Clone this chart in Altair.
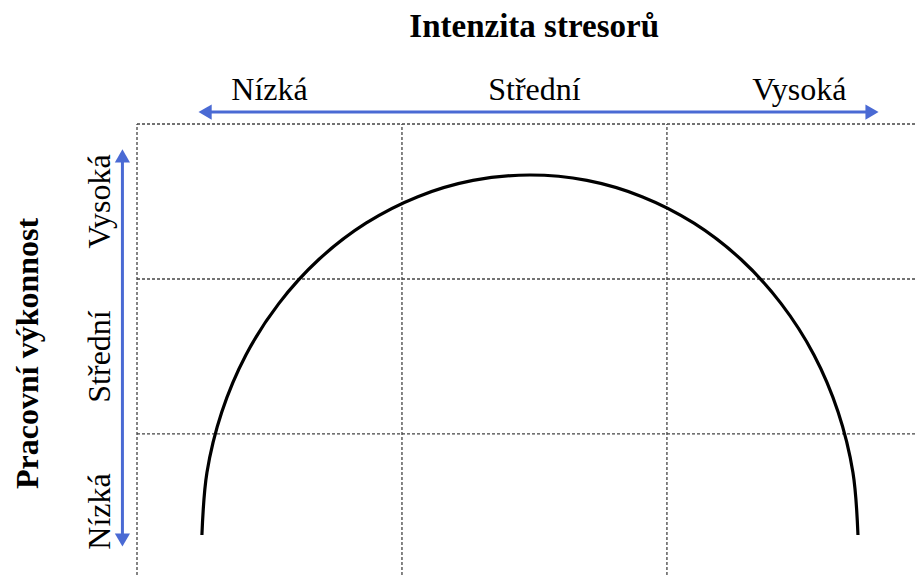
import altair as alt
import pandas as pd

# ---- data (diagram units: one grid cell = 1) ----
levels = ["Nízká", "Střední", "Vysoká"]
level_pos = [0.5, 1.5, 2.5]
grid_pos = [0, 1, 2, 3]

# inverted-U curve
curve_x = [0.245, 0.264, 0.320, 0.411, 0.535, 0.687, 0.864, 1.060, 1.268, 1.483,
           1.698, 1.906, 2.102, 2.279, 2.431, 2.555, 2.646, 2.702, 2.721]
curve_y = [0.348, 0.751, 1.142, 1.510, 1.841, 2.127, 2.360, 2.531, 2.636, 2.671,
           2.636, 2.531, 2.360, 2.127, 1.841, 1.510, 1.142, 0.751, 0.348]

x_title = "Intenzita stresorů"
y_title = "Pracovní výkonnost"

XMAX = 2.94
YMIN = 0.09
FONT = "Liberation Serif"
BLUE = "#4a6ad4"
GRID = "#444444"

xs = alt.Scale(domain=[0, XMAX], nice=False, zero=False)
ys = alt.Scale(domain=[YMIN, 3], nice=False, zero=False)

# grid
vgrid = pd.DataFrame({"x": grid_pos[:3], "y": [YMIN] * 3, "y2": [3] * 3})
hgrid = pd.DataFrame({"y": grid_pos[1:], "x": [0] * 3, "x2": [XMAX] * 3})

vg = alt.Chart(vgrid).mark_rule(color=GRID, strokeDash=[3, 2], strokeWidth=1.3).encode(
    x=alt.X("x:Q", scale=xs, axis=None), y=alt.Y("y:Q", scale=ys, axis=None), y2="y2:Q")
hg = alt.Chart(hgrid).mark_rule(color=GRID, strokeDash=[3, 2], strokeWidth=1.3).encode(
    y=alt.Y("y:Q", scale=ys, axis=None), x=alt.X("x:Q", scale=xs, axis=None), x2="x2:Q")

curve = alt.Chart(pd.DataFrame({"x": curve_x, "y": curve_y, "o": range(len(curve_x))})).mark_line(
    color="black", strokeWidth=3.2, interpolate="catmull-rom").encode(
    x=alt.X("x:Q", scale=xs, axis=None), y=alt.Y("y:Q", scale=ys, axis=None), order="o:Q")

# arrows
harrow = alt.Chart(pd.DataFrame({"x": [0.257], "x2": [2.774], "y": [3.077]})).mark_rule(
    color=BLUE, strokeWidth=3).encode(
    x=alt.X("x:Q", scale=xs, axis=None), x2="x2:Q", y=alt.Y("y:Q", scale=ys, axis=None))
varrow = alt.Chart(pd.DataFrame({"x": [-0.055], "y": [0.316], "y2": [2.794]})).mark_rule(
    color=BLUE, strokeWidth=3).encode(
    x=alt.X("x:Q", scale=xs, axis=None), y=alt.Y("y:Q", scale=ys, axis=None), y2="y2:Q")

heads = pd.DataFrame({
    "x": [0.257, 2.774, -0.055, -0.055],
    "y": [3.077, 3.077, 2.794, 0.316],
    "shape": ["triangle-left", "triangle-right", "triangle-up", "triangle-down"],
})
arrowheads = alt.Chart(heads).mark_point(filled=True, size=230, color=BLUE, opacity=1).encode(
    x=alt.X("x:Q", scale=xs, axis=None), y=alt.Y("y:Q", scale=ys, axis=None),
    shape=alt.Shape("shape:N", scale=None))

# labels
top_lab = alt.Chart(pd.DataFrame({"t": levels, "x": level_pos, "y": [3.155] * 3})).mark_text(
    font=FONT, fontSize=32, color="black", align="center", baseline="alphabetic").encode(
    x=alt.X("x:Q", scale=xs, axis=None), y=alt.Y("y:Q", scale=ys, axis=None), text="t:N")
left_lab = alt.Chart(pd.DataFrame({"t": levels, "y": level_pos, "x": [-0.102] * 3})).mark_text(
    font=FONT, fontSize=32, color="black", align="center", baseline="alphabetic", angle=270).encode(
    x=alt.X("x:Q", scale=xs, axis=None), y=alt.Y("y:Q", scale=ys, axis=None), text="t:N")

title_t = alt.Chart(pd.DataFrame({"t": [x_title], "x": [1.499], "y": [3.561]})).mark_text(
    font=FONT, fontSize=33, fontWeight="bold", color="black", align="center", baseline="alphabetic").encode(
    x=alt.X("x:Q", scale=xs, axis=None), y=alt.Y("y:Q", scale=ys, axis=None), text="t:N")
title_l = alt.Chart(pd.DataFrame({"t": [y_title], "x": [-0.374], "y": [1.52]})).mark_text(
    font=FONT, fontSize=32, fontWeight="bold", color="black", align="center", baseline="alphabetic", angle=270).encode(
    x=alt.X("x:Q", scale=xs, axis=None), y=alt.Y("y:Q", scale=ys, axis=None), text="t:N")

chart = alt.layer(vg, hg, curve, harrow, varrow, arrowheads, top_lab, left_lab, title_t, title_l).properties(
    width=779, height=451,
    autosize=alt.AutoSizeParams(type="none"),
    padding={"left": 129, "top": 116, "right": 0, "bottom": 0},
    background="white",
).configure_view(stroke=None)

chart.save("out.html", embed_options={"renderer": "svg", "actions": False})
